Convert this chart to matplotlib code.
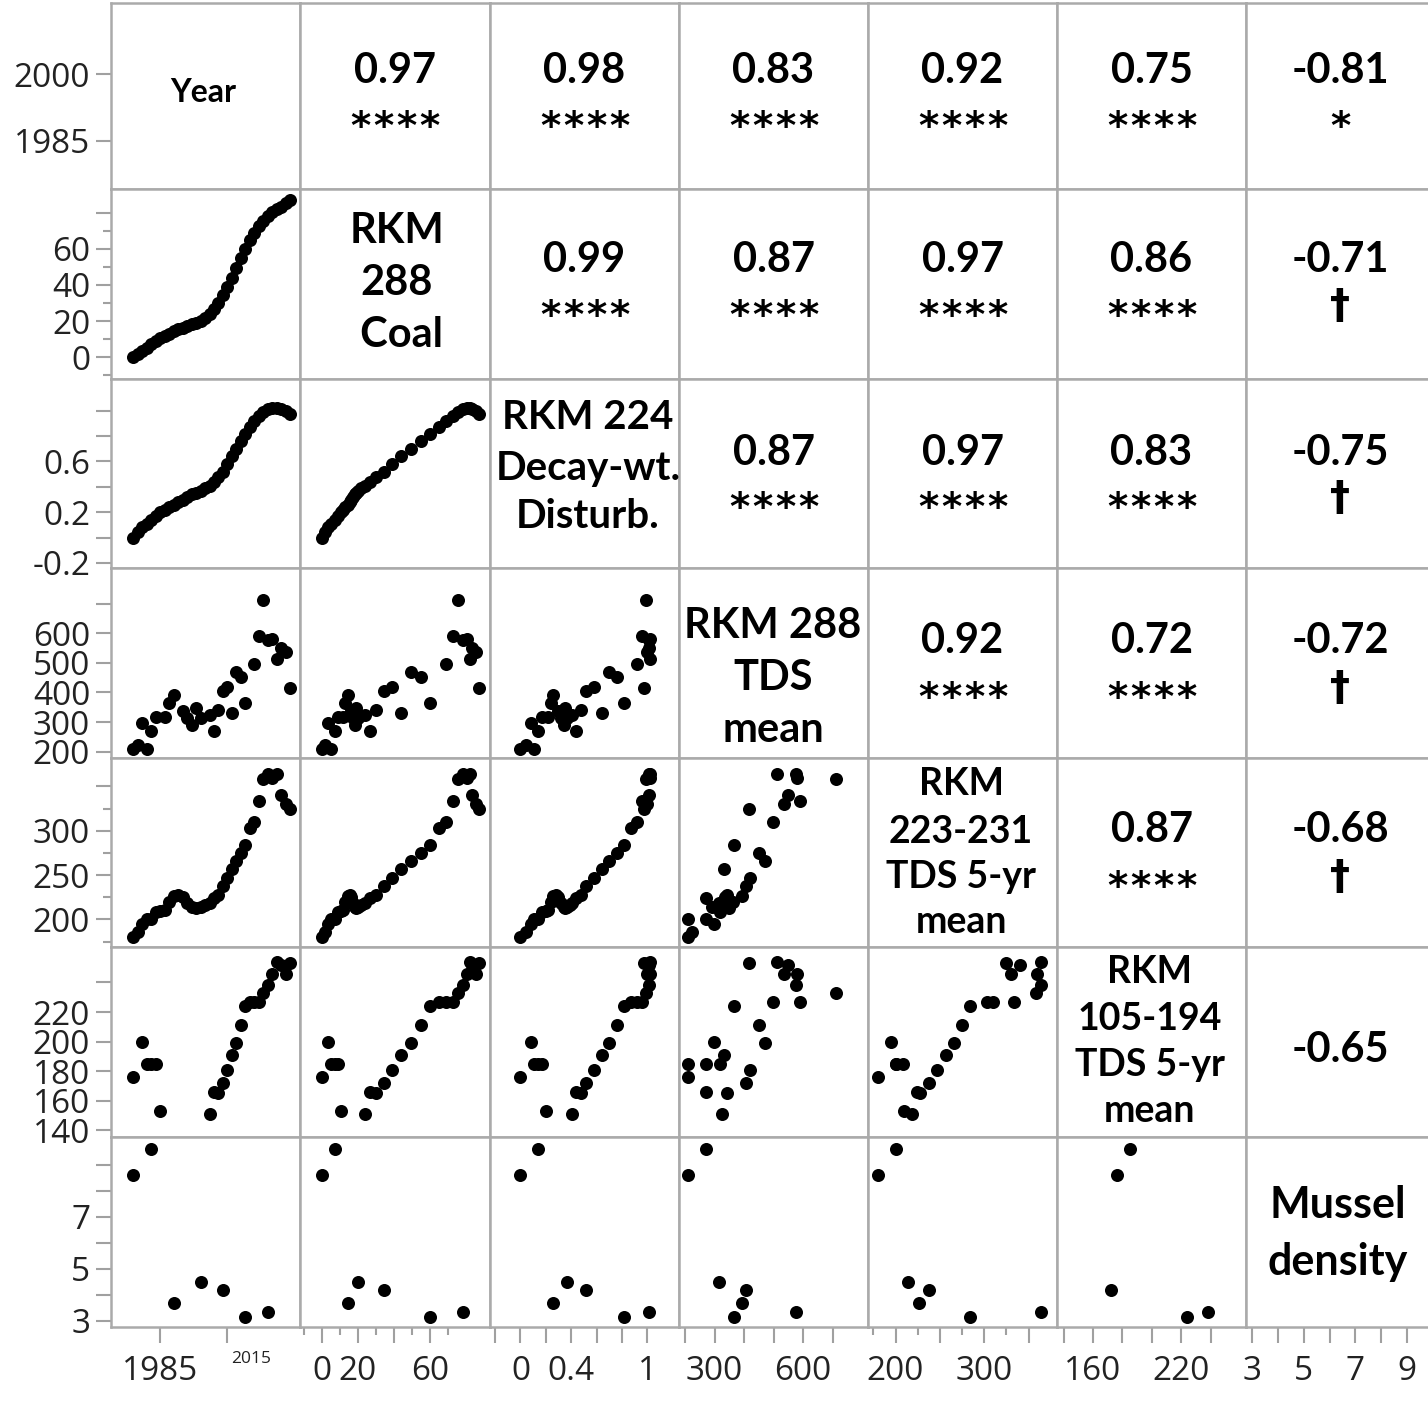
import matplotlib
matplotlib.use("Agg")
import matplotlib.pyplot as plt

nan = float("nan")

# ---------------- data ----------------
years = [1979, 1980, 1981, 1982, 1983, 1984, 1985, 1986, 1987, 1988, 1989, 1990,
         1991, 1992, 1993, 1994, 1995, 1996, 1997, 1998, 1999, 2000, 2001, 2002,
         2003, 2004, 2005, 2006, 2007, 2008, 2009, 2010, 2011, 2012, 2013, 2014]

coal = [0, 1.8, 3.5, 5.2, 7, 8.7, 10.3, 11.8, 13, 14.2, 15.3, 16.3,
        17.2, 18.1, 19, 20.2, 21.8, 24, 26.8, 30.2, 34.3, 39, 44, 49.5,
        55, 60, 64.8, 69, 72.8, 75.8, 78.3, 80.3, 82, 83.5, 85.5, 87]

decay = [0.00, 0.04, 0.08, 0.11, 0.14, 0.17, 0.20, 0.22, 0.24, 0.26, 0.28, 0.30,
         0.32, 0.34, 0.355, 0.37, 0.39, 0.41, 0.44, 0.48, 0.52, 0.58, 0.64, 0.70,
         0.76, 0.82, 0.87, 0.92, 0.96, 0.99, 1.01, 1.02, 1.02, 1.01, 0.995, 0.975]

tds288 = [208, 224, 297, 208, 269, 319, nan, 319, 363, 391, nan, 336,
          313, 291, 347, 313, nan, 324, 269, 341, 405, 419, 330, 469,
          452, 365, nan, 497, 590, 711, 576, 580, 513, 549, 536, 416]

tds223 = [180, 186, 195, 201, 200, 209, 210, 211, 220, 226, 228, 225,
          219, 214, 213, 214, 216, 219, 224, 228, 238, 247, 257, 266,
          275, 284, 303, 310, 333, 358, 364, 360, 364, 340, 330, 324]

tds105 = [176, nan, 200, 185, 185, 185, 153, nan, nan, nan, nan, nan,
          nan, nan, nan, nan, nan, 151, 166, 165, 172, 181, 191, 199,
          211, 224, 227, 227, 227, 233, 238, 246, 254, 252, 246, 253]

mussel = [8.6, nan, nan, nan, 9.6, nan, nan, nan, nan, 3.7, nan, nan,
          nan, nan, nan, 4.5, nan, nan, nan, nan, 4.2, nan, nan, nan,
          nan, 3.15, nan, nan, nan, nan, 3.35, nan, nan, nan, nan, nan]

diag_labels = [["Year"],
               ["RKM", "288", " Coal"],
               ["RKM 224", "Decay-wt.", "Disturb."],
               ["RKM 288", "TDS", "mean"],
               ["RKM", "223-231", "TDS 5-yr", "mean"],
               ["RKM", "105-194", "TDS 5-yr", "mean"],
               ["Mussel", "density"]]

r_values = [["0.97", "0.98", "0.83", "0.92", "0.75", "-0.81"],
            ["0.99", "0.87", "0.97", "0.86", "-0.71"],
            ["0.87", "0.97", "0.83", "-0.75"],
            ["0.92", "0.72", "-0.72"],
            ["0.87", "-0.68"],
            ["-0.65"]]

signif = [["****", "****", "****", "****", "****", "*"],
          ["****", "****", "****", "****", "\u2020"],
          ["****", "****", "****", "\u2020"],
          ["****", "****", "\u2020"],
          ["****", "\u2020"],
          [""]]

variables = [years, coal, decay, tds288, tds223, tds105, mussel]

# ---------------- axis styling ----------------
limits = [(1974.0, 2016.2), (-12.2, 93.3), (-0.24, 1.25), (179, 820),
          (169, 382), (135.5, 264), (2.76, 10.08)]

x_major = [[1985, 2000], [0, 20, 40, 60], [-0.2, 0, 0.2, 0.4, 0.6, 0.8, 1.0],
           [200, 300, 400, 500, 600, 700], [200, 250, 300, 350],
           [140, 160, 180, 200, 220, 240], [3, 4, 5, 6, 7, 8, 9]]
x_labels = [["1985", ""], ["0", "20", "", "60"], ["", "0", "", "0.4", "", "", "1"],
            ["", "300", "", "", "600", ""], ["200", "", "300", ""],
            ["", "160", "", "", "220", ""], ["3", "", "5", "", "7", "", "9"]]
x_minor = [[], [-10, 10, 30, 50, 70], [], [], [175, 225, 275, 325], [], []]

y_major = [[1985, 2000], [0, 20, 40, 60, 80], [-0.2, 0, 0.2, 0.4, 0.6, 0.8, 1.0],
           [200, 300, 400, 500, 600, 700], [200, 250, 300, 350],
           [140, 160, 180, 200, 220, 240], [3, 4, 5, 6, 7, 8, 9]]
y_labels = [["1985", "2000"], ["0", "20", "40", "60", ""],
            ["-0.2", "", "0.2", "", "0.6", "", ""],
            ["200", "300", "400", "500", "600", ""], ["200", "250", "300", ""],
            ["140", "160", "180", "200", "220", ""], ["3", "", "5", "", "7", "", ""]]
y_minor = [[], [-10, 10, 30, 50, 70], [], [], [175, 225, 275, 325], [], []]

W, H = 1428, 1414
col_edges = [111, 300, 490, 679, 868, 1057, 1246, 1435]
row_edges = [3, 189, 379, 568, 758, 947, 1137, 1327]

GRID = "#aaaaaa"
TICKC = "#a0a0a0"
LABC = "#222222"
TICKFONT = ["Open Sans", "DejaVu Sans"]
BOLDFONT = ["Lato", "DejaVu Sans"]
SYMFONT = ["DejaVu Sans"]

fig = plt.figure(figsize=(W / 100, H / 100), dpi=100)
fig.patch.set_facecolor("white")

n = len(variables)
for i in range(n):
    for j in range(n):
        l, r = col_edges[j], col_edges[j + 1]
        t, b = row_edges[i], row_edges[i + 1]
        ax = fig.add_axes([l / W, 1 - b / H, (r - l) / W, (b - t) / H])
        ax.set_xlim(limits[j])
        ax.set_ylim(limits[i])
        for s in ax.spines.values():
            s.set_color(GRID)
            s.set_linewidth(1.8)
        if i > j:
            ax.scatter(variables[j], variables[i], s=88, c="black",
                       linewidths=0, zorder=3, clip_on=True)
        if i == n - 1:
            ax.set_xticks(x_major[j])
            ax.set_xticklabels(x_labels[j])
            if x_minor[j]:
                ax.set_xticks(x_minor[j], minor=True)
            ax.tick_params(axis="x", which="major", direction="out", length=11.5,
                           width=1.5, color=TICKC, pad=9, labelsize=24,
                           labelcolor=LABC)
            ax.tick_params(axis="x", which="minor", direction="out", length=6,
                           width=1.5, color=TICKC)
            for lab in ax.get_xticklabels():
                lab.set_family(TICKFONT)
        else:
            ax.set_xticks([])
        if j == 0:
            ax.set_yticks(y_major[i])
            ax.set_yticklabels(y_labels[i])
            if y_minor[i]:
                ax.set_yticks(y_minor[i], minor=True)
            ax.tick_params(axis="y", which="major", direction="out", length=11,
                           width=1.5, color=TICKC, pad=4, labelsize=24,
                           labelcolor=LABC)
            ax.tick_params(axis="y", which="minor", direction="out", length=6,
                           width=1.5, color=TICKC)
            for lab in ax.get_yticklabels():
                lab.set_family(TICKFONT)
        else:
            ax.set_yticks([])


def ftext(x, y, s, size, family=BOLDFONT, **kw):
    fig.text(x / W, 1 - y / H, s, fontsize=size, ha="center", va="baseline",
             family=family, fontweight="bold", color="black", **kw)


# stray small year label under the Year column
fig.text(251 / W, 1 - 1363 / H, "2015", fontsize=12.5, ha="center", va="baseline",
         family=TICKFONT, color=LABC)

# diagonal labels (baselines in pixels)
diag_x = [203, 397, 588, 773, 961, 1150, 1338]
diag_base = [[102], [243, 295, 347], [429, 480, 528], [638, 690, 742],
             [795, 843, 888, 933], [983, 1030, 1076, 1122], [1218, 1275]]
diag_size = [23, 30, 29, 30, 27, 27, 31]
for k in range(n):
    for line, yb in zip(diag_labels[k], diag_base[k]):
        ftext(diag_x[k], yb, line, diag_size[k])

# upper triangle correlation text
num_center = [68, 257, 450, 638, 827, 1047]
star_center = [117, 306, 498, 688, 877, 0]
NUM_FS = 30
STAR_FS = 28
STAR_STEP = 23
num_cap = 0.7165 * NUM_FS * 100 / 72
for i in range(n - 1):
    for k, j in enumerate(range(i + 1, n)):
        cx = (col_edges[j] + col_edges[j + 1]) / 2
        if j == n - 1:
            cx = 1340
        ftext(cx, num_center[i] + num_cap / 2, r_values[i][k], NUM_FS)
        sg = signif[i][k]
        if sg.startswith("*"):
            m = len(sg)
            yb = star_center[i] + 0.57 * STAR_FS * 100 / 72
            for q in range(m):
                ftext(cx + (q - (m - 1) / 2) * STAR_STEP, yb, "*", STAR_FS,
                      family=SYMFONT)
        elif sg:
            fs = 29
            ftext(cx, star_center[i] + 0.30 * fs * 100 / 72, sg, fs, family=SYMFONT)

fig.savefig("out.png", dpi=100, facecolor="white")
